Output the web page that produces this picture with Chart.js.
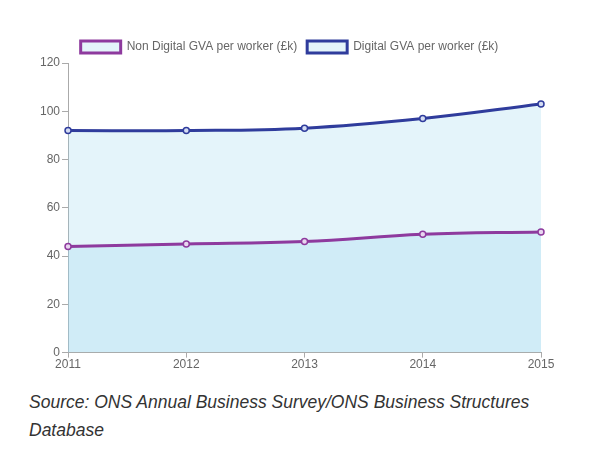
<!DOCTYPE html>
<html>
<head>
<meta charset="utf-8">
<script src="https://cdn.jsdelivr.net/npm/chart.js@4"></script>
<style>
  html, body { margin: 0; padding: 0; background: #fff; }
  #wrap { position: relative; width: 601px; height: 372px; }
  #src { margin: 0; padding: 16px 0 0 29px; width: 560px; font-family: "Liberation Sans", Arial, sans-serif; font-style: italic; font-size: 17.5px; line-height: 28px; color: #333; }
</style>
</head>
<body>
<div id="wrap"><canvas id="c"></canvas></div>
<p id="src">Source: ONS Annual Business Survey/ONS Business Structures Database</p>
<script>
const years = ["2011", "2012", "2013", "2014", "2015"];
const nonDigital = [44, 45, 46, 49, 50];
const digital = [92, 92, 93, 97, 103];
const yTicks = [0, 20, 40, 60, 80, 100, 120];

const fillColor = "rgba(151, 213, 236, 0.26)";
Chart.defaults.font.family = "'Liberation Sans', Arial, sans-serif";
Chart.defaults.font.size = 12;
Chart.defaults.color = "#666";

new Chart(document.getElementById("c"), {
  type: "line",
  data: {
    labels: years,
    datasets: [
      {
        label: "Non Digital GVA per worker (£k)",
        data: nonDigital,
        borderColor: "#8e3a9e",
        backgroundColor: fillColor,
        borderWidth: 3,
        fill: "origin",
        tension: 0.4,
        pointRadius: 3,
        pointBorderWidth: 1.5,
        pointBackgroundColor: "#e8d6f0"
      },
      {
        label: "Digital GVA per worker (£k)",
        data: digital,
        borderColor: "#2f3c9c",
        backgroundColor: fillColor,
        borderWidth: 3,
        fill: "origin",
        tension: 0.4,
        pointRadius: 3,
        pointBorderWidth: 1.5,
        pointBackgroundColor: "#d4dcf2"
      }
    ]
  },
  options: {
    responsive: true,
    maintainAspectRatio: false,
    animation: false,
    layout: { padding: { left: 38, right: 60, top: 31, bottom: 0 } },
    plugins: {
      legend: {
        position: "top",
        labels: { boxWidth: 40, boxHeight: 12, color: "#666", padding: 10 }
      },
      tooltip: { enabled: false }
    },
    scales: {
      x: {
        offset: false,
        grid: { display: true, drawOnChartArea: false, drawTicks: true, tickLength: 5, color: "#aaa" },
        border: { color: "#aaa" },
        ticks: { color: "#666", padding: 0, maxRotation: 0 }
      },
      y: {
        min: 0,
        max: 120,
        afterBuildTicks: (axis) => { axis.ticks = yTicks.map(v => ({ value: v })); },
        grid: { display: true, drawOnChartArea: false, drawTicks: true, tickLength: 6, color: "#aaa" },
        border: { color: "#aaa" },
        ticks: { color: "#666", padding: 2 }
      }
    }
  }
});
</script>
</body>
</html>
